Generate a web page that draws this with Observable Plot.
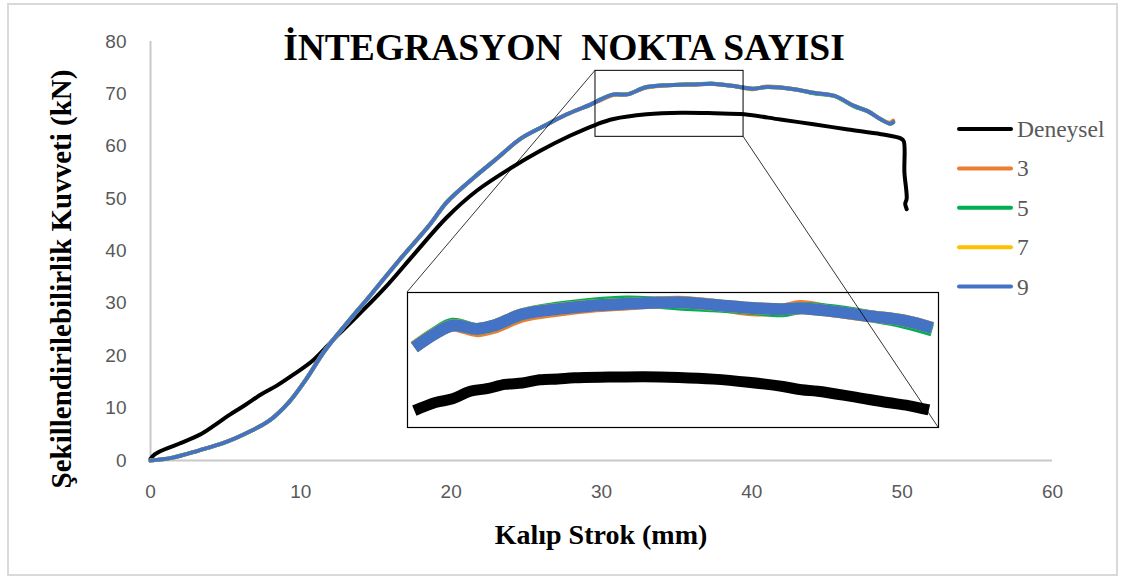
<!DOCTYPE html>
<html><head><meta charset="utf-8">
<script src="https://cdn.jsdelivr.net/npm/d3@7"></script>
<script src="https://cdn.jsdelivr.net/npm/@observablehq/plot@0.6"></script>
<style>
html,body{margin:0;padding:0;background:#fff;}
#chart{position:relative;width:1121px;height:578px;}
</style></head><body><div id="chart"></div>
<script>
// ---------- DATA ----------
const titleText = "İNTEGRASYON  NOKTA SAYISI";
const xLabel = "Kalıp Strok (mm)";
const yLabel = "Şekillendirilebilirlik Kuvveti (kN)";
const xTicks = [0, 10, 20, 30, 40, 50, 60];
const yTicks = [0, 10, 20, 30, 40, 50, 60, 70, 80];
const seriesNames = ["Deneysel", "3", "5", "7", "9"];
const seriesColors = ["#000000", "#ED7D31", "#00B050", "#FFC000", "#4472C4"];

// Experimental curve (Deneysel)
const expStroke = [0, 0.3, 1.0, 1.9, 3.4, 4.3, 5.2, 6.3, 7.4, 8.4, 9.4, 10.8, 12.1, 13.9, 15.6, 17.6, 19.7, 21.7, 24.0, 25.9, 27.9, 29.7, 30.8, 33.0, 35.3, 37.5, 39.5, 41.9, 44.1, 46.4, 48.6, 49.9, 50.1, 50.15, 50.3, 50.2, 50.3];
const expForce  = [0.3, 1.2, 2.2, 3.2, 5.1, 6.8, 8.6, 10.6, 12.7, 14.3, 16.2, 19.1, 22.9, 28.0, 33.0, 39.6, 46.4, 51.5, 55.9, 59.1, 62.0, 64.2, 65.2, 66.1, 66.4, 66.3, 66.1, 65.1, 64.2, 63.2, 62.3, 61.5, 61.0, 55.0, 50.0, 49.0, 48.0];

// Simulations (integration point counts 3, 5, 7, 9)
const simStroke = [0, 1.4, 3.2, 5.0, 6.5, 7.9, 9.2, 10.3, 11.6, 13.0, 14.7, 16.5, 18.6, 19.7, 21.5, 23.1, 24.6, 26.2, 27.7, 29.3, 29.7, 30.8, 31.7, 33.0, 34.8, 36.1, 37.5, 38.8, 40.1, 41.0, 42.8, 44.1, 45.5, 46.8, 47.7, 48.6, 49.2, 49.4];
const force3 = [0, 0.5, 1.9, 3.5, 5.4, 7.6, 11.1, 15.3, 21.0, 26.0, 31.8, 38.1, 45.1, 49.3, 54.0, 57.8, 61.4, 63.9, 66.1, 68.0, 68.5, 69.8, 69.9, 71.2, 71.7, 71.8, 71.9, 71.5, 70.9, 71.4, 70.9, 70.2, 69.6, 67.7, 66.7, 65.1, 64.5, 64.9];
const force5 = [0, 0.5, 1.9, 3.5, 5.4, 7.6, 11.1, 15.3, 21.0, 26.0, 31.8, 38.1, 45.1, 49.3, 54.0, 57.8, 61.4, 63.9, 66.1, 68.0, 68.6, 69.9, 69.9, 71.3, 71.7, 71.8, 71.95, 71.5, 71.0, 71.3, 70.9, 70.1, 69.6, 67.6, 66.7, 65.1, 64.3, 64.6];
const force7 = [0, 0.5, 1.9, 3.5, 5.4, 7.6, 11.1, 15.3, 21.0, 26.0, 31.8, 38.1, 45.1, 49.3, 54.0, 57.8, 61.4, 63.9, 66.1, 68.0, 68.6, 69.9, 69.9, 71.3, 71.7, 71.8, 71.9, 71.5, 71.0, 71.3, 70.9, 70.2, 69.6, 67.7, 66.7, 65.1, 64.3, 64.6];
const force9 = [0, 0.5, 1.9, 3.5, 5.4, 7.6, 11.1, 15.3, 21.0, 26.0, 31.8, 38.1, 45.1, 49.3, 54.0, 57.8, 61.4, 63.9, 66.1, 68.0, 68.6, 69.9, 69.9, 71.3, 71.7, 71.8, 71.9, 71.5, 71.0, 71.3, 70.9, 70.2, 69.6, 67.7, 66.7, 65.1, 64.3, 64.6];

// Zoomed box on the main chart (mm, kN)
const zoomStroke = [29.6, 39.45];
const zoomForce = [61.8, 74.4];

// Inset (magnified view) readings
const insetExpStroke = [28.05, 28.82, 29.45, 30.09, 30.7, 31.36, 32.0, 32.63, 33.3, 33.9, 35.17, 36.44, 37.71, 38.98, 40.25, 41.52, 42.2, 42.79, 44.06, 45.33, 46.1, 46.85];
const insetExpForce  = [63.0, 63.72, 64.05, 64.72, 64.95, 65.33, 65.45, 65.74, 65.82, 65.92, 65.98, 66.02, 65.95, 65.8, 65.52, 65.14, 64.85, 64.72, 64.24, 63.72, 63.45, 63.06];
const insetSimStroke = [28.05, 28.82, 29.45, 30.34, 30.97, 31.99, 33.26, 34.53, 35.80, 36.69, 37.71, 38.97, 40.24, 41.51, 42.15, 43.42, 44.69, 45.96, 46.97];
const insetForce3 = [68.62, 69.9, 70.55, 70.06, 70.37, 71.36, 71.87, 72.23, 72.44, 72.58, 72.68, 72.42, 71.95, 71.97, 72.31, 71.8, 71.4, 71.0, 70.35];
const insetForce5 = [68.67, 69.96, 70.72, 70.26, 70.57, 71.56, 72.14, 72.5, 72.69, 72.63, 72.44, 72.27, 72.07, 71.84, 72.11, 71.9, 71.4, 70.8, 70.13];
const insetForce7 = [68.66, 69.9, 70.6, 70.26, 70.57, 71.56, 72.03, 72.34, 72.5, 72.6, 72.64, 72.42, 72.15, 72.02, 72.11, 71.8, 71.4, 71.0, 70.35];
const insetForce9 = [68.62, 69.86, 70.57, 70.26, 70.57, 71.56, 72.02, 72.33, 72.49, 72.58, 72.64, 72.42, 72.15, 72.02, 72.11, 71.80, 71.40, 71.00, 70.35];

// ---------- BUILD ----------
const simForces = [force3, force5, force7, force9];
const insetSimForces = [insetForce3, insetForce5, insetForce7, insetForce9];
const expRows = expStroke.map((x, i) => ({x, y: expForce[i]}));
const simRows = simForces.map(f => simStroke.map((x, i) => ({x, y: f[i]})));
const insetExpRows = insetExpStroke.map((x, i) => ({x, y: insetExpForce[i]}));
const insetSimRows = insetSimForces.map(f => insetSimStroke.map((x, i) => ({x, y: f[i]})));

const W = 1121, H = 578;
const curve = "catmull-rom";

const main = Plot.plot({
  width: W, height: H,
  marginLeft: 150, marginRight: 69, marginTop: 41, marginBottom: 118,
  x: {domain: [0, 60]},
  y: {domain: [0, 80]},
  style: {fontFamily: "Liberation Sans", fontSize: "19px", color: "#595959", background: "white", overflow: "visible"},
  marks: [
    Plot.axisX({ticks: xTicks, tickSize: 0, tickPadding: 24, label: null, fontSize: 19}),
    Plot.axisY({ticks: yTicks, tickSize: 0, tickPadding: 24, label: null, fontSize: 19}),
    Plot.ruleY([0], {stroke: "#c9c9c9", strokeWidth: 2}),
    Plot.ruleX([0], {stroke: "#c9c9c9", strokeWidth: 2}),
    Plot.line(expRows, {x: "x", y: "y", stroke: seriesColors[0], strokeWidth: 4, curve}),
    ...simRows.map((rows, k) => Plot.line(rows, {x: "x", y: "y", stroke: seriesColors[k + 1], strokeWidth: 4, curve})),
    Plot.rect([{x1: zoomStroke[0], x2: zoomStroke[1], y1: zoomForce[0], y2: zoomForce[1]}],
      {x1: "x1", x2: "x2", y1: "y1", y2: "y2", fill: "none", stroke: "#000", strokeWidth: 1})
  ]
});

// Inset
const insetX = 407, insetY = 292, insetW = 531, insetH = 135;
const inset = Plot.plot({
  width: insetW, height: insetH, margin: 0,
  x: {domain: [27.8, 47.2], axis: null},
  y: {domain: [61.5, 73.5], axis: null},
  style: {overflow: "visible", background: "transparent"},
  marks: [
    Plot.frame({fill: "white", stroke: "none"}),
    Plot.line(insetExpRows, {x: "x", y: "y", stroke: seriesColors[0], strokeWidth: 11, strokeLinecap: "butt", curve}),
    ...insetSimRows.map((rows, k) => Plot.line(rows, {x: "x", y: "y", stroke: seriesColors[k + 1], strokeWidth: 12, strokeLinecap: "butt", curve})),
    Plot.frame({stroke: "#000", strokeWidth: 1.2})
  ]
});
const svg = d3.select(main);
const insetG = svg.append("g").attr("transform", `translate(${insetX},${insetY})`);
Array.from(inset.childNodes).forEach(n => { if (n.nodeName.toLowerCase() !== "style") insetG.node().appendChild(n); });

const sx = main.scale("x"), sy = main.scale("y");
// connector lines
svg.append("line").attr("x1", sx.apply(zoomStroke[0])).attr("y1", sy.apply(zoomForce[1]))
  .attr("x2", insetX).attr("y2", insetY).attr("stroke", "#000").attr("stroke-width", 0.8);
svg.append("line").attr("x1", sx.apply(zoomStroke[1])).attr("y1", sy.apply(zoomForce[0]))
  .attr("x2", insetX + insetW).attr("y2", insetY + insetH).attr("stroke", "#000").attr("stroke-width", 0.8);

// Title
svg.append("text").attr("x", 564).attr("y", 60).attr("text-anchor", "middle")
  .attr("font-family", "Liberation Serif").attr("font-weight", "bold").attr("font-size", 37.5)
  .attr("fill", "#000").style("white-space", "pre").text(titleText);
// Axis labels
svg.append("text").attr("x", 601).attr("y", 544).attr("text-anchor", "middle")
  .attr("font-family", "Liberation Serif").attr("font-weight", "bold").attr("font-size", 28)
  .attr("fill", "#000").text(xLabel);
svg.append("text").attr("transform", "translate(71,279) rotate(-90)").attr("text-anchor", "middle")
  .attr("font-family", "Liberation Serif").attr("font-weight", "bold").attr("font-size", 29)
  .attr("fill", "#000").text(yLabel);

// Legend
const lg = svg.append("g");
seriesNames.forEach((name, i) => {
  const y = 129 + 39.4 * i;
  lg.append("line").attr("x1", 959).attr("x2", 1011).attr("y1", y).attr("y2", y)
    .attr("stroke", seriesColors[i]).attr("stroke-width", 4).attr("stroke-linecap", "round");
  lg.append("text").attr("x", 1017).attr("y", y + 8).attr("text-anchor", "start")
    .attr("font-family", "Liberation Serif")
    .attr("font-size", 23.5).attr("fill", "#595959").text(name);
});

// Outer border
svg.append("rect").attr("x", 8).attr("y", 4).attr("width", 1109).attr("height", 571)
  .attr("fill", "none").attr("stroke", "#d9d9d9").attr("stroke-width", 2);

document.getElementById("chart").appendChild(main);
</script></body></html>
